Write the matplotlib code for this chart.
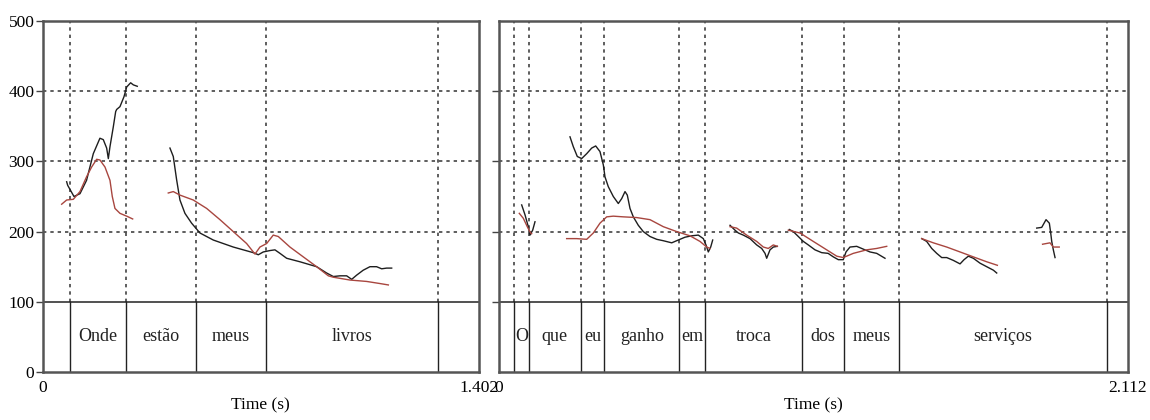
import matplotlib
matplotlib.use("Agg")
import matplotlib.pyplot as plt

# ---- left utterance: "Onde estão meus livros" (duration 1.402 s)
left_dur = 1.402
left_bounds = [0.0877, 0.2667, 0.4916, 0.7166, 1.2693]
left_words = ["", "Onde", "estão", "meus", "livros", ""]

left_black = [
    ([0.0771, 0.0803, 0.1006, 0.1199, 0.141, 0.1627, 0.184, 0.1948, 0.2056, 0.211,
      0.2163, 0.2269, 0.2346, 0.2378, 0.2484, 0.2612, 0.27, 0.2827, 0.2914, 0.304],
     [271, 266, 250, 254, 273, 311, 333, 331, 319, 304,
      321, 349, 371, 374, 378, 392, 406, 412, 409, 407]),
    ([0.409, 0.4197, 0.4304, 0.4411, 0.4572, 0.4786, 0.5054, 0.5482, 0.6125, 0.6768,
      0.6929, 0.7089, 0.7304, 0.7464, 0.7625, 0.784, 0.8268, 0.8804, 0.9125, 0.934,
      0.9554, 0.9768, 0.993, 1.009, 1.030, 1.0517, 1.073, 1.0893, 1.1053, 1.1215],
     [319, 307, 274, 245, 226, 212, 198, 188, 178, 170,
      167, 171, 173, 174, 169, 162, 157, 150, 141, 136,
      137, 137, 132, 138, 145, 150, 150, 147, 148, 148]),
]
left_red = [
    ([0.061, 0.0771, 0.0985, 0.1199, 0.141, 0.1574, 0.1735, 0.184, 0.2002, 0.2163,
      0.2237, 0.2323, 0.2484, 0.27, 0.2892],
     [239, 245, 246, 257, 278, 292, 303, 302, 292, 273,
      250, 233, 226, 222, 218]),
    ([0.4036, 0.4197, 0.4411, 0.4839, 0.527, 0.5697, 0.6125, 0.6554, 0.6822, 0.6982,
      0.7197, 0.741, 0.7571, 0.7946, 0.8374, 0.8804, 0.9179, 0.934, 0.9875, 1.041,
      1.0839, 1.1108],
     [255, 257, 252, 245, 233, 217, 200, 183, 168, 178,
      183, 195, 193, 178, 164, 150, 137, 135, 131, 129,
      126, 124]),
]

# ---- right utterance: "O que eu ganho em troca dos meus serviços" (2.112 s)
right_dur = 2.112
right_bounds = [0.0504, 0.1007, 0.2743, 0.3536, 0.6054, 0.6917, 1.0163, 1.1595, 1.343, 2.0404]
right_words = ["", "O", "que", "eu", "ganho", "em", "troca", "dos", "meus", "serviços", ""]

right_black = [
    ([0.0762, 0.0873, 0.0984, 0.1041, 0.1131, 0.1209],
     [238, 224, 207, 195, 202, 214]),
    ([0.2384, 0.2495, 0.2629, 0.2776, 0.2945, 0.3113, 0.3247, 0.3391, 0.3503, 0.3559,
      0.367, 0.3838, 0.4006, 0.412, 0.4231, 0.4308, 0.4399, 0.451, 0.4677, 0.4845,
      0.507, 0.5295, 0.5517, 0.5799, 0.602, 0.6245, 0.647, 0.6692, 0.686, 0.695,
      0.7028, 0.7108, 0.7175],
     [335, 321, 307, 304, 311, 319, 322, 314, 295, 278,
      264, 250, 240, 247, 257, 252, 233, 221, 209, 200,
      193, 189, 187, 184, 188, 192, 194, 195, 190, 181,
      171, 178, 188]),
    ([0.7757, 0.7924, 0.8036, 0.8203, 0.8428, 0.8653, 0.882, 0.8932, 0.8988, 0.9099,
      0.921, 0.9345],
     [209, 202, 198, 195, 190, 181, 176, 169, 162, 174,
      178, 179]),
    ([0.9748, 0.9882, 1.005, 1.0218, 1.0386, 1.061, 1.0835, 1.105, 1.1225, 1.1393,
      1.156, 1.1651, 1.1785, 1.201, 1.2232, 1.2457, 1.2682, 1.296],
     [203, 200, 193, 186, 181, 174, 170, 169, 164, 160,
      160, 171, 178, 179, 175, 171, 169, 162]),
    ([1.4193, 1.436, 1.4529, 1.4697, 1.4864, 1.5032, 1.5254, 1.548, 1.5614, 1.5759,
      1.5926, 1.6151, 1.6375, 1.66, 1.6711],
     [190, 186, 176, 169, 163, 163, 159, 154, 160, 165,
      162, 155, 150, 145, 141]),
    ([1.8054, 1.8222, 1.8367, 1.8478, 1.8524, 1.8558, 1.8612, 1.8669],
     [205, 206, 217, 212, 198, 186, 174, 163]),
]
right_red = [
    ([0.0682, 0.0816, 0.095, 0.1064, 0.1097],
     [226, 219, 207, 198, 197]),
    ([0.2272, 0.2609, 0.2945, 0.3167, 0.3391, 0.3616, 0.3838, 0.4174, 0.4623, 0.507,
      0.5517, 0.5967, 0.6413, 0.6749, 0.6974, 0.7085],
     [190, 190, 189, 198, 212, 221, 222, 221, 220, 217,
      207, 200, 194, 186, 178, 176]),
    ([0.7757, 0.798, 0.8316, 0.8653, 0.8875, 0.9042, 0.921, 0.9345],
     [207, 205, 195, 186, 178, 176, 181, 179]),
    ([0.9714, 1.0107, 1.0553, 1.1003, 1.1339, 1.156, 1.1896, 1.2345, 1.2682, 1.3018],
     [202, 198, 186, 174, 165, 163, 169, 174, 176, 179]),
    ([1.4193, 1.4583, 1.5032, 1.548, 1.5926, 1.6375, 1.6733],
     [190, 184, 178, 171, 164, 157, 152]),
    ([1.825, 1.85, 1.861, 1.881],
     [182, 184, 178, 178]),
]

y_ticks = [0, 100, 200, 300, 400, 500]

plt.rcParams['font.family'] = ['Liberation Serif', 'DejaVu Serif']

BLACK = '#1e1e1e'
RED = '#a8463f'
DOT = (0, (2.2, 2.6))

fig = plt.figure(figsize=(11.5, 4.2), dpi=100)
ax_l = fig.add_axes([0.0371, 0.1143, 0.3794, 0.8357])
ax_r = fig.add_axes([0.4339, 0.1143, 0.5470, 0.8357])


def draw_panel(ax, dur, bounds, words, black, red, show_labels):
    ax.set_xlim(0, dur)
    ax.set_ylim(0, 500)

    # horizontal grid and tier separator
    for yv in [200, 300, 400]:
        ax.axhline(yv, color='#333333', lw=1.1, ls=DOT, zorder=1)
    ax.axhline(100, color='#222222', lw=1.1, zorder=2)

    # interval boundaries: solid in tier, dotted above
    for b in bounds:
        ax.plot([b, b], [0, 100], color='#222222', lw=1.0, zorder=2)
        ax.plot([b, b], [100, 500], color='#333333', lw=1.1, ls=DOT, zorder=1)

    # word labels
    edges = [0] + bounds + [dur]
    for i, w in enumerate(words):
        if w:
            ax.text((edges[i] + edges[i + 1]) / 2, 50, w, ha='center', va='center',
                    fontsize=13, color='#222222')

    for xs, ys in black:
        ax.plot(xs, ys, color=BLACK, lw=1.0, zorder=3)
    for xs, ys in red:
        ax.plot(xs, ys, color=RED, lw=1.0, zorder=4)

    for sp in ax.spines.values():
        sp.set_color('#555555')
        sp.set_linewidth(1.8)

    ax.set_yticks(y_ticks[1:-1] if not show_labels else y_ticks)
    ax.tick_params(axis='y', direction='out', length=5, width=1, color='#444444',
                   labelsize=12.5, pad=1)
    if not show_labels:
        ax.set_yticklabels([])
    ax.set_xticks([0, dur])
    ax.set_xticklabels(['0', f'{dur:.3f}'])
    ax.tick_params(axis='x', length=0, labelsize=12.5, pad=6)
    ax.set_xlabel('Time (s)', fontsize=12.5, labelpad=1)


draw_panel(ax_l, left_dur, left_bounds, left_words, left_black, left_red, True)
draw_panel(ax_r, right_dur, right_bounds, right_words, right_black, right_red, False)

fig.savefig('out.png', dpi=100)
